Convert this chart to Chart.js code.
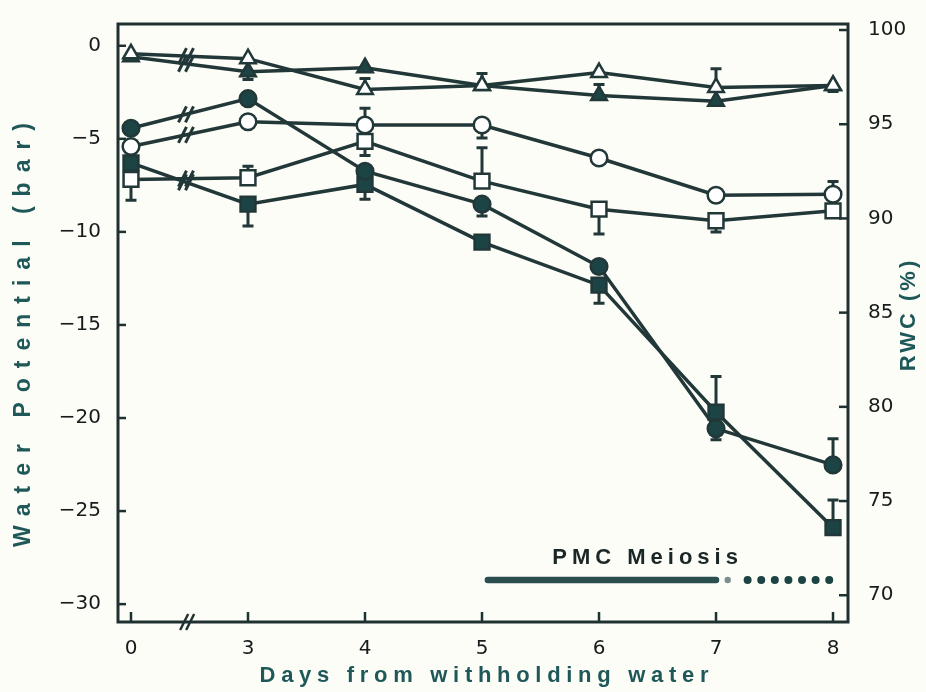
<!DOCTYPE html>
<html>
<head>
<meta charset="utf-8">
<script src="https://cdn.jsdelivr.net/npm/chart.js@4/dist/chart.umd.min.js"></script>
<style>
  html, body { margin: 0; padding: 0; background: #fdfdf7; }
  #wrap { width: 926px; height: 692px; position: relative; }
</style>
</head>
<body>
<div id="wrap"><canvas id="c" width="926" height="692"></canvas></div>
<script>
// Sampling days after water was withheld (evenly spaced, axis broken between 0 and 3)
const days = ['0', '3', '4', '5', '6', '7', '8'];
const wpTicks = [0, -5, -10, -15, -20, -25, -30];
const rwcTicks = [100, 95, 90, 85, 80, 75, 70];

// Relative water content (%), right axis
const rwcOpen      = [98.74, 98.48, 96.85, 97.06, 97.74, 96.95, 97.06];
const rwcOpenErr   = [null,  null,  97.43, 97.69, null,  97.95, null];
const rwcFilled    = [98.58, 97.79, 98.00, 97.06, 96.53, 96.22, 97.06];
const rwcFilledErr = [null,  97.37, null,  null,  97.11, null,  96.74];

// Water potential (bar), left axis - circles
const wpCircleOpen      = [-5.41, -4.08, -4.26, -4.26, -6.03, -8.03, -7.98];
const wpCircleOpenErr   = [null,  null,  -3.35, -4.95, null,  null,  -7.29];
const wpCircleFilled    = [-4.43, -2.84, -6.74, -8.51, -11.86, -20.57, -22.52];
const wpCircleFilledErr = [null,  null,  null,  -9.15, null,  -21.17, -21.12];

// Water potential (bar), left axis - squares
const wpSquareOpen      = [-7.18, -7.09, -5.14, -7.27, -8.78, -9.40, -8.87];
const wpSquareOpenErr   = [-8.30, -6.47, -5.90, -5.48, -10.11, -10.00, null];
const wpSquareFilled    = [-6.29, -8.51, -7.45, -10.55, -12.86, -19.68, -25.89];
const wpSquareFilledErr = [null,  -9.68, -8.24, null,  -13.83, -17.77, -24.41];

// PMC meiosis period (day index, water-potential level of the bar)
const meiosisSolid = [3.05, 5.0];
const meiosisDotted = [5.27, 6.0];
const meiosisLevel = -28.7;

const ink = '#223838';
const markFill = '#1d4444';
const titleInk = '#1f5858';
const tickInk = '#161c1c';

function pts(values) { return values.map((v, i) => ({ x: i, y: v })); }

function series(label, values, errs, axis, style, filled, radius) {
  return {
    label,
    data: pts(values),
    errorEnds: errs,
    yAxisID: axis,
    pointStyle: style,
    pointRadius: radius,
    pointHoverRadius: radius,
    pointBackgroundColor: filled ? markFill : '#ffffff',
    pointBorderColor: ink,
    pointBorderWidth: 2.5,
    borderColor: ink,
    borderWidth: 3.5,
    tension: 0,
    fill: false
  };
}

const decorations = {
  id: 'decorations',
  beforeDatasetsDraw(chart) {
    const ctx = chart.ctx;
    const xs = chart.scales.x;
    ctx.save();
    ctx.strokeStyle = ink;
    ctx.lineWidth = 3;
    ctx.lineCap = 'butt';
    chart.data.datasets.forEach(ds => {
      const ys = chart.scales[ds.yAxisID];
      ds.errorEnds.forEach((e, i) => {
        if (e === null) return;
        const px = xs.getPixelForValue(i);
        const p0 = ys.getPixelForValue(ds.data[i].y);
        const p1 = ys.getPixelForValue(e);
        ctx.beginPath();
        ctx.moveTo(px, p0);
        ctx.lineTo(px, p1);
        ctx.moveTo(px - 5.5, p1);
        ctx.lineTo(px + 5.5, p1);
        ctx.stroke();
      });
    });
    ctx.restore();
  },
  afterDatasetsDraw(chart) {
    const ctx = chart.ctx;
    const xs = chart.scales.x;
    const wp = chart.scales.wp;
    const rwc = chart.scales.rwc;
    const area = chart.chartArea;
    ctx.save();

    // break marks on each line between day 0 and day 3
    const bx = 0.47;
    ctx.strokeStyle = ink;
    ctx.lineWidth = 3;
    chart.data.datasets.forEach(ds => {
      const ys = chart.scales[ds.yAxisID];
      const x0 = xs.getPixelForValue(0), x1 = xs.getPixelForValue(1);
      const y0 = ys.getPixelForValue(ds.data[0].y), y1 = ys.getPixelForValue(ds.data[1].y);
      const px = xs.getPixelForValue(bx);
      const py = y0 + (y1 - y0) * (px - x0) / (x1 - x0);
      [-3.5, 3.5].forEach(off => {
        ctx.beginPath();
        ctx.moveTo(px + off - 4, py + 8);
        ctx.lineTo(px + off + 4, py - 8);
        ctx.stroke();
      });
    });

    // PMC meiosis bar
    const my = wp.getPixelForValue(meiosisLevel);
    ctx.lineCap = 'round';
    ctx.strokeStyle = '#2b4f4f';
    ctx.lineWidth = 6.5;
    ctx.beginPath();
    ctx.moveTo(xs.getPixelForValue(meiosisSolid[0]), my);
    ctx.lineTo(xs.getPixelForValue(meiosisSolid[1]), my);
    ctx.stroke();
    ctx.fillStyle = '#7d8c8c';
    ctx.beginPath();
    ctx.arc(xs.getPixelForValue(5.1), my, 3.2, 0, Math.PI * 2);
    ctx.fill();
    ctx.strokeStyle = '#1d4444';
    ctx.lineWidth = 8;
    ctx.setLineDash([0, 13.6]);
    ctx.beginPath();
    ctx.moveTo(xs.getPixelForValue(meiosisDotted[0]), my);
    ctx.lineTo(xs.getPixelForValue(meiosisDotted[1]) + 1, my);
    ctx.stroke();
    ctx.setLineDash([]);

    ctx.fillStyle = '#1b2626';
    ctx.font = 'bold 22px "Liberation Sans", Arial, sans-serif';
    ctx.letterSpacing = '5px';
    ctx.textAlign = 'left';
    ctx.textBaseline = 'middle';
    ctx.fillText('PMC Meiosis', xs.getPixelForValue(3.6), wp.getPixelForValue(-27.5));
    ctx.letterSpacing = '0px';

    // inward tick marks
    ctx.strokeStyle = '#1e3030';
    ctx.lineWidth = 2.5;
    ctx.lineCap = 'butt';
    wpTicks.forEach(v => {
      const y = wp.getPixelForValue(v);
      ctx.beginPath(); ctx.moveTo(area.left, y); ctx.lineTo(area.left + 8, y); ctx.stroke();
    });
    rwcTicks.forEach(v => {
      const y = rwc.getPixelForValue(v);
      ctx.beginPath(); ctx.moveTo(area.right, y); ctx.lineTo(area.right - 9, y); ctx.stroke();
    });
    days.forEach((d, i) => {
      const x = xs.getPixelForValue(i);
      ctx.beginPath(); ctx.moveTo(x, area.bottom); ctx.lineTo(x, area.bottom - 10); ctx.stroke();
    });

    // frame
    ctx.lineWidth = 3;
    ctx.strokeStyle = '#1e3030';
    ctx.strokeRect(area.left, area.top, area.right - area.left, area.bottom - area.top);

    // axis break on the day axis
    const ax = xs.getPixelForValue(0.48);
    ctx.lineWidth = 2.5;
    [-3, 3].forEach(off => {
      ctx.beginPath();
      ctx.moveTo(ax + off - 4, area.bottom + 8);
      ctx.lineTo(ax + off + 4, area.bottom - 8);
      ctx.stroke();
    });

    ctx.restore();
  },
  afterDraw(chart) {
    const ctx = chart.ctx;
    ctx.save();
    ctx.fillStyle = titleInk;
    ctx.textAlign = 'center';
    ctx.textBaseline = 'middle';

    ctx.font = 'bold 23px "Liberation Sans", Arial, sans-serif';
    const sp1 = 10;
    ctx.letterSpacing = sp1 + 'px';
    ctx.save();
    ctx.translate(24, 335);
    ctx.rotate(-Math.PI / 2);
    ctx.fillText('Water Potential (bar)', sp1 / 2, 0);
    ctx.restore();

    ctx.font = 'bold 22px "Liberation Sans", Arial, sans-serif';
    const sp2 = 3;
    ctx.letterSpacing = sp2 + 'px';
    ctx.save();
    ctx.translate(909, 316);
    ctx.rotate(-Math.PI / 2);
    ctx.fillText('RWC (%)', sp2 / 2, 0);
    ctx.restore();

    const sp3 = 5.7;
    ctx.letterSpacing = sp3 + 'px';
    ctx.fillText('Days from withholding water', 484 + sp3 / 2, 676);
    ctx.restore();
  }
};

new Chart(document.getElementById('c'), {
  type: 'line',
  data: {
    datasets: [
      series('RWC open', rwcOpen, rwcOpenErr, 'rwc', 'triangle', false, 9),
      series('RWC filled', rwcFilled, rwcFilledErr, 'rwc', 'triangle', true, 9),
      series('WP open circle', wpCircleOpen, wpCircleOpenErr, 'wp', 'circle', false, 8.3),
      series('WP filled circle', wpCircleFilled, wpCircleFilledErr, 'wp', 'circle', true, 8.3),
      series('WP open square', wpSquareOpen, wpSquareOpenErr, 'wp', 'rect', false, 10.5),
      series('WP filled square', wpSquareFilled, wpSquareFilledErr, 'wp', 'rect', true, 10.5)
    ]
  },
  options: {
    responsive: false,
    animation: false,
    devicePixelRatio: 1,
    layout: { padding: { top: 18, left: 0, right: 0, bottom: 0 } },
    plugins: { legend: { display: false }, tooltip: { enabled: false }, title: { display: false } },
    scales: {
      x: {
        type: 'linear',
        min: -0.111,
        max: 6.128,
        grid: { display: false },
        border: { display: false },
        afterBuildTicks: s => { s.ticks = days.map((d, i) => ({ value: i })); },
        afterFit: s => { s.height = 70; },
        ticks: {
          callback: v => days[v],
          color: tickInk,
          padding: 7,
          maxRotation: 0,
          font: { family: '"DejaVu Sans", sans-serif', size: 20 }
        }
      },
      wp: {
        type: 'linear',
        position: 'left',
        min: -30.96,
        max: 1.17,
        grid: { display: false },
        border: { display: false },
        afterBuildTicks: s => { s.ticks = wpTicks.map(v => ({ value: v })); },
        afterFit: s => { s.width = 118; },
        ticks: {
          callback: v => (v === 0 ? '0' : '\u2212' + Math.abs(v)),
          color: tickInk,
          padding: 9,
          font: { family: '"DejaVu Sans", sans-serif', size: 20 }
        }
      },
      rwc: {
        type: 'linear',
        position: 'right',
        min: 68.58,
        max: 100.32,
        grid: { display: false },
        border: { display: false },
        afterBuildTicks: s => { s.ticks = rwcTicks.map(v => ({ value: v })); },
        afterFit: s => { s.width = 78; },
        ticks: {
          color: tickInk,
          padding: 12,
          font: { family: '"DejaVu Sans", sans-serif', size: 20 }
        }
      }
    }
  },
  plugins: [decorations]
});
</script>
</body>
</html>
